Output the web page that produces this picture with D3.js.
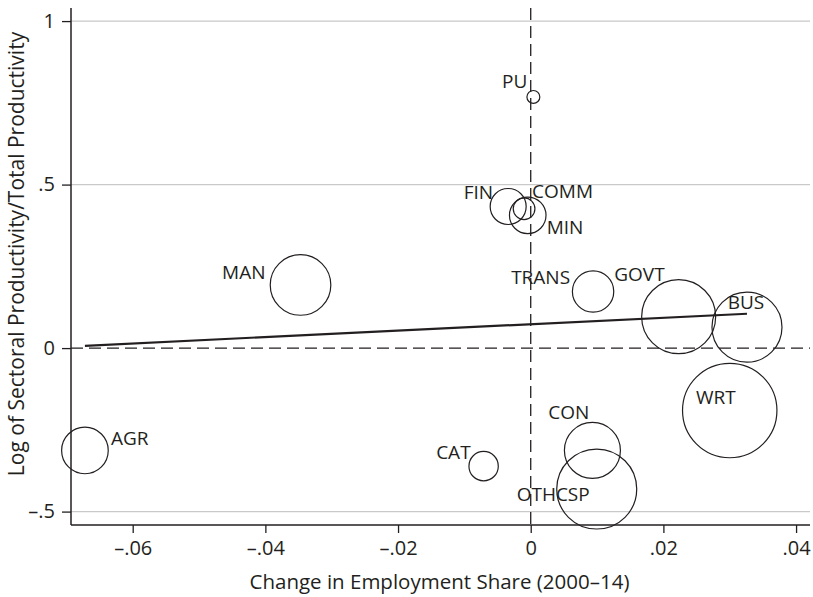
<!DOCTYPE html>
<html>
<head>
<meta charset="utf-8">
<script src="https://cdn.jsdelivr.net/npm/d3@7"></script>
<style>
  body { margin: 0; background: #fff; }
  svg { font-family: "Open Sans", sans-serif; }
</style>
</head>
<body>
<svg id="plot"></svg>
<script>
// sectors, change in employment share, log relative productivity, employment weight
const sectors = ["AGR", "MAN", "PU", "FIN", "COMM", "MIN", "TRANS", "GOVT", "BUS", "WRT", "CON", "CAT", "OTHCSP"];
const empChange = [-0.0672, -0.0347, 0.0004, -0.0034, -0.0010, -0.00045, 0.0094, 0.0223, 0.0326, 0.0300, 0.0093, -0.0071, 0.00995];
const logProd = [-0.313, 0.193, 0.768, 0.433, 0.426, 0.406, 0.173, 0.096, 0.064, -0.191, -0.313, -0.361, -0.431];
const empWeight = [0.0366, 0.0618, 0.0028, 0.0218, 0.0079, 0.0225, 0.0288, 0.0922, 0.0825, 0.15, 0.0528, 0.0145, 0.1077];

// fitted line end points
const fitX = [-0.0672, 0.0326];
const fitY = [0.007, 0.105];

// tick values and labels
const xTicks = [-0.06, -0.04, -0.02, 0, 0.02, 0.04];
const xTickLabels = ["\u2013.06", "\u2013.04", "\u2013.02", "0", ".02", ".04"];
const yTicks = [1, 0.5, 0, -0.5];
const yTickLabels = ["1", ".5", "0", "\u2013.5"];

// label placement around each bubble (pixel offset from center)
const labelPos = {
    AGR: [26, -5, "start"],
    MAN: [-35, -6, "end"],
    PU: [-6, -9, "end"],
    FIN: [-15, -7, "end"],
    COMM: [8, -11, "start"],
    MIN: [19, 19, "start"],
    TRANS: [-23, -8, "end"],
    GOVT: [-14, -36, "end"],
    BUS: [-1, -18, "middle"],
    WRT: [6, -7, "end"],
    CON: [-3, -31, "end"],
    CAT: [-13, -7, "end"],
    OTHCSP: [-7, 12, "end"]
};

const data = sectors.map((s, i) => ({ name: s, x: empChange[i], y: logProd[i], w: empWeight[i] }));

// init setting
const svg = d3.select("#plot").attr("width", 813).attr("height", 597);
const margin = { top: 8, right: 3, bottom: 72, left: 71 };
const width = 813 - margin.left - margin.right;
const height = 597 - margin.top - margin.bottom;
const ink = "#231f20";

const x = d3.scaleLinear().domain([-0.0693, 0.0421]).range([0, width]);
const y = d3.scaleLinear().domain([-0.541, 1.040]).range([height, 0]);
const r = d3.scaleSqrt().domain([0, 0.15]).range([0, 47.2]);

const g = svg.append("g").attr("transform", `translate(${margin.left},${margin.top})`);

// grid lines (zero is drawn dashed)
g.selectAll(".grid")
    .data(yTicks.filter(d => d !== 0))
    .enter().append("line")
    .attr("class", "grid")
    .attr("x1", 0).attr("x2", width)
    .attr("y1", d => y(d)).attr("y2", d => y(d))
    .style("stroke", "#c9c9c9")
    .style("stroke-width", 1.2);

// reference lines at zero
g.append("line")
    .attr("x1", 0).attr("x2", width)
    .attr("y1", y(0)).attr("y2", y(0))
    .style("stroke", ink).style("stroke-width", 1.3)
    .style("stroke-dasharray", "12,6");
g.append("line")
    .attr("x1", x(0)).attr("x2", x(0))
    .attr("y1", 0).attr("y2", height)
    .style("stroke", ink).style("stroke-width", 1.3)
    .style("stroke-dasharray", "12,6");

// bubbles
g.selectAll(".bubble")
    .data(data)
    .enter().append("circle")
    .attr("class", "bubble")
    .attr("cx", d => x(d.x))
    .attr("cy", d => y(d.y))
    .attr("r", d => r(d.w))
    .style("fill", "none")
    .style("stroke", ink)
    .style("stroke-width", 1.2);

// fitted line
g.append("path")
    .attr("d", d3.line()(fitX.map((v, i) => [x(v), y(fitY[i])])))
    .style("stroke", ink)
    .style("stroke-width", 2.2)
    .style("fill", "none");

// bubble labels
g.selectAll(".lab")
    .data(data)
    .enter().append("text")
    .attr("class", "lab")
    .attr("x", d => x(d.x) + labelPos[d.name][0])
    .attr("y", d => y(d.y) + labelPos[d.name][1])
    .style("text-anchor", d => labelPos[d.name][2])
    .style("font-size", "19px")
    .style("fill", ink)
    .text(d => d.name);

// axes
const xAxis = g.append("g")
    .attr("transform", `translate(0,${height})`)
    .call(d3.axisBottom(x).tickValues(xTicks).tickSize(8).tickPadding(8)
        .tickFormat((d, i) => xTickLabels[i]));
const yAxis = g.append("g")
    .call(d3.axisLeft(y).tickValues(yTicks).tickSize(9).tickPadding(7)
        .tickFormat((d, i) => yTickLabels[i]));

[xAxis, yAxis].forEach(a => {
    a.select(".domain").attr("d", null);
    a.selectAll("line").style("stroke", ink).style("stroke-width", 1.3);
    a.selectAll("text").style("font-size", "20px").style("fill", ink)
        .style("font-family", "Open Sans, sans-serif");
});

// axis lines
g.append("line").attr("x1", 0).attr("x2", width).attr("y1", height).attr("y2", height)
    .style("stroke", ink).style("stroke-width", 1.5);
g.append("line").attr("x1", 0).attr("x2", 0).attr("y1", 0).attr("y2", height)
    .style("stroke", ink).style("stroke-width", 1.5);

// axis titles
svg.append("text")
    .attr("x", margin.left + width / 2 - 1)
    .attr("y", 589)
    .style("text-anchor", "middle")
    .style("font-size", "20.5px")
    .style("fill", ink)
    .text("Change in Employment Share (2000\u201314)");

svg.append("text")
    .attr("transform", "translate(24,254) rotate(-90)")
    .style("text-anchor", "middle")
    .style("font-size", "21px")
    .style("fill", ink)
    .text("Log of Sectoral Productivity/Total Productivity");
</script>
</body>
</html>
